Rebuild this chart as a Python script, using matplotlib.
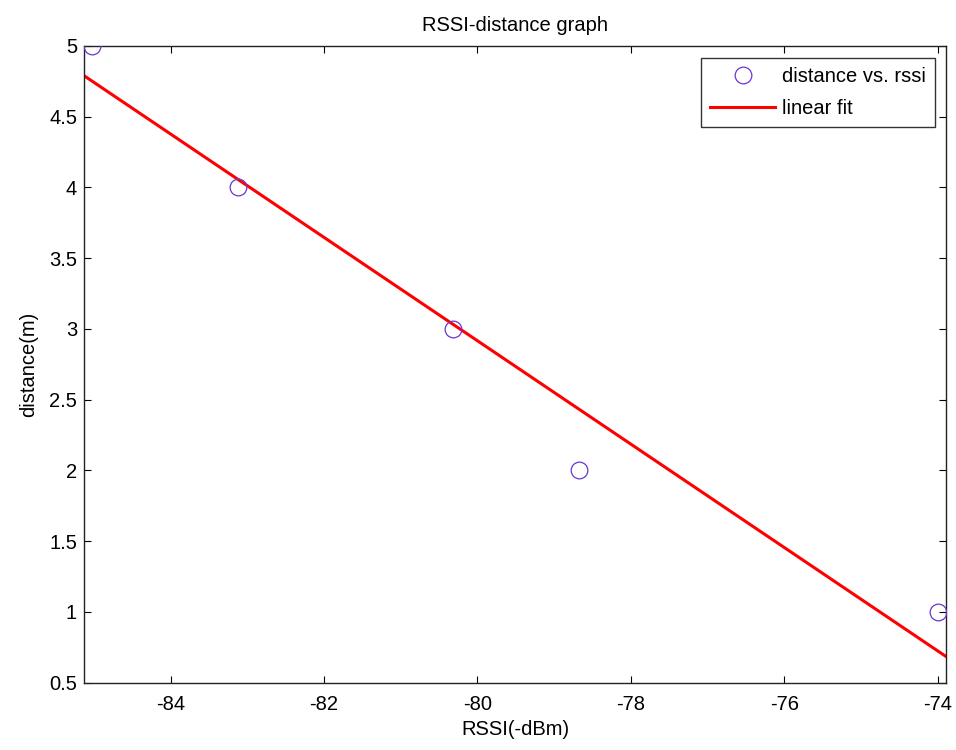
import numpy as np
import matplotlib
matplotlib.use("Agg")
import matplotlib.pyplot as plt
from matplotlib.ticker import FuncFormatter

# measured rssi (dBm) at each reference distance (m)
rssi = [-85.02, -83.12, -80.32, -78.68, -74.0]
distance = [5, 4, 3, 2, 1]

x_ticks = [-84, -82, -80, -78, -76, -74]
y_ticks = [0.5, 1, 1.5, 2, 2.5, 3, 3.5, 4, 4.5, 5]

plt.rcParams['font.family'] = ['Liberation Sans', 'DejaVu Sans']
plt.rcParams['axes.unicode_minus'] = False
fs = 14.5

fig = plt.figure(figsize=(9.56, 7.5), dpi=100)
ax = fig.add_axes([0.0879, 0.0897, 0.9016, 0.849])

# least squares line, drawn over the padded x range
span = rssi[-1] - rssi[0]
x_lo, x_hi = rssi[0] - 0.01 * span, rssi[-1] + 0.01 * span
slope, icpt = np.polyfit(rssi, distance, 1)
xf = np.array([x_lo, x_hi])

ax.plot(rssi, distance, 'o', markersize=12, markerfacecolor='none',
        markeredgecolor='#6a35d4', markeredgewidth=0.9, label='distance vs. rssi', zorder=3)
ax.plot(xf, slope * xf + icpt, color='#ff0000', linewidth=2.2, label='linear fit', zorder=2)

ax.set_xlim(x_lo, x_hi)
ax.set_ylim(0.5, 5)
ax.set_xticks(x_ticks)
ax.set_yticks(y_ticks)
ax.yaxis.set_major_formatter(FuncFormatter(lambda v, p: '%g' % v))
ax.xaxis.set_major_formatter(FuncFormatter(lambda v, p: '%g' % v))
ax.tick_params(direction='in', length=5, width=0.8, top=True, right=True,
               labelsize=fs, colors='black')
ax.tick_params(axis='x', pad=8.5)
ax.tick_params(axis='y', pad=5)
for s in ax.spines.values():
    s.set_linewidth(1.0)
    s.set_color('#222222')

ax.set_xlabel('RSSI(-dBm)', fontsize=fs, labelpad=5)
ax.set_ylabel('distance(m)', fontsize=fs, labelpad=8)
ax.set_title('RSSI-distance graph', fontsize=fs, pad=11)

leg = ax.legend(loc='upper right', bbox_to_anchor=(0.978, 0.9227),
                bbox_transform=fig.transFigure, borderaxespad=0, fontsize=fs,
                fancybox=False, numpoints=1, handlelength=3.2, handletextpad=0.35,
                borderpad=0.46, labelspacing=0.63)
leg.get_frame().set_edgecolor('black')
leg.get_frame().set_linewidth(1.0)

fig.savefig('out.png', dpi=100)
